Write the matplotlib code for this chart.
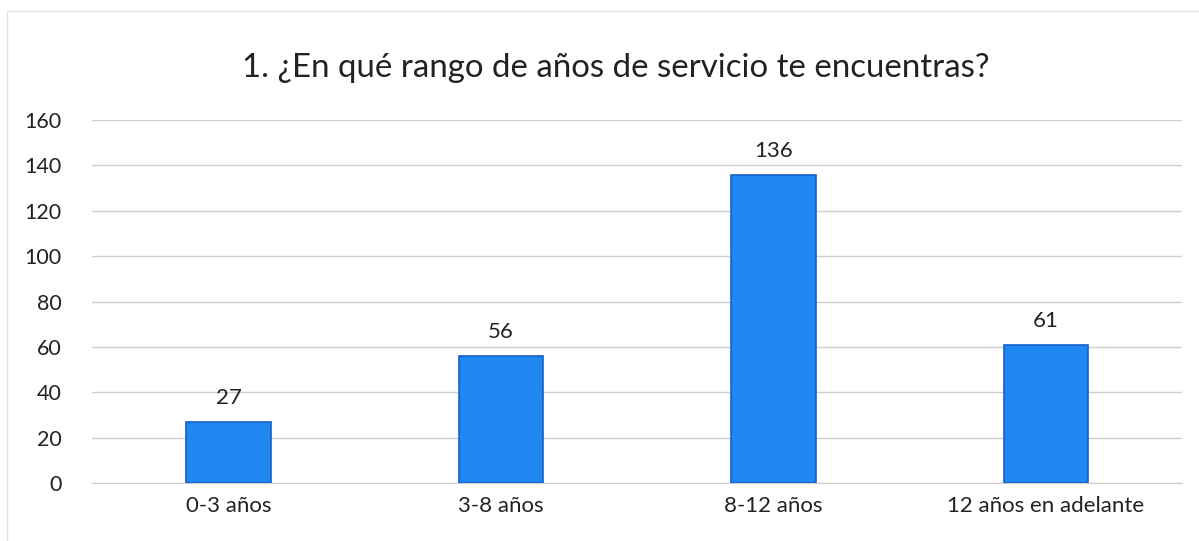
import matplotlib.pyplot as plt
from matplotlib.patches import Rectangle

plt.rcParams['font.family'] = ['Lato', 'DejaVu Sans']

categories = ["0-3 años", "3-8 años", "8-12 años", "12 años en adelante"]
counts = [27, 56, 136, 61]
y_ticks = [0, 20, 40, 60, 80, 100, 120, 140, 160]

fig = plt.figure(figsize=(11.99, 5.41), dpi=100)
ax = fig.add_axes([0.077, 0.107, 0.909, 0.671])

x = range(len(categories))
bars = ax.bar(x, counts, width=0.31, color="#1E88F0", edgecolor="#1560C8",
              linewidth=1.2, zorder=3)
for rect, val in zip(bars, counts):
    ax.text(rect.get_x() + rect.get_width() / 2, val + 6, str(val),
            ha="center", va="bottom", fontsize=16, color="#222222")

ax.set_xlim(-0.5, len(categories) - 0.5)
ax.set_ylim(0, 160)
ax.set_yticks(y_ticks)
ax.set_xticks(list(x))
ax.set_xticklabels(categories, fontsize=16, color="#222222")
ax.tick_params(axis="y", labelsize=15.5, labelcolor="#222222", length=0, pad=22)
ax.tick_params(axis="x", length=0, pad=9)
ax.grid(axis="y", color="#cfcfcf", linewidth=1, zorder=0)
for side in ["top", "right", "left"]:
    ax.spines[side].set_visible(False)
ax.spines["bottom"].set_color("#cfcfcf")

fig.text(0.514, 0.875, "1. ¿En qué rango de años de servicio te encuentras?",
         ha="center", va="center", fontsize=23.8, color="#222222")

fig.patches.append(Rectangle((0.006, -0.01), 1.2, 0.99, transform=fig.transFigure,
                             fill=False, edgecolor="#e2e2e2", linewidth=1))

fig.savefig("out.png", dpi=100)
